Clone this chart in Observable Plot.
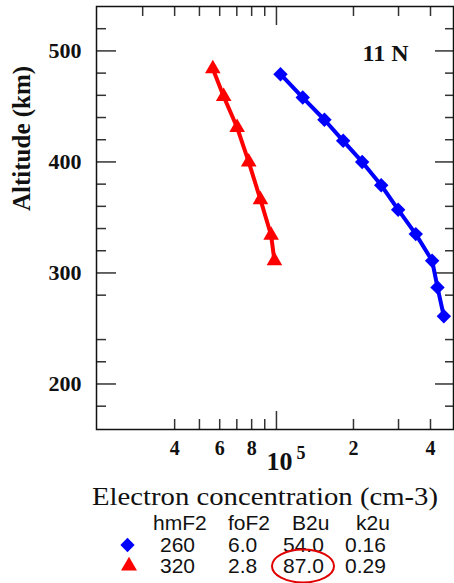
<!DOCTYPE html>
<html>
<head>
<meta charset="utf-8">
<script src="https://cdn.jsdelivr.net/npm/d3@7"></script>
<script src="https://cdn.jsdelivr.net/npm/@observablehq/plot@0.6"></script>
<style>
  html, body { margin: 0; padding: 0; background: #fff; }
  #chart { width: 454px; height: 583px; }
</style>
</head>
<body>
<div id="chart"></div>
<script>
// ---- data ----
const blueAlt = [479, 458, 438, 419, 400, 379, 357, 335, 311, 287, 261];
const blueNe  = [1.037e5, 1.267e5, 1.54e5, 1.823e5, 2.163e5, 2.567e5, 2.99e5, 3.504e5, 4.06e5, 4.26e5, 4.51e5];
const redAlt  = [484, 459, 431, 400, 366, 334, 311];
const redNe   = [5.64e4, 6.22e4, 7.02e4, 7.79e4, 8.66e4, 9.53e4, 9.82e4];

const yMajor = [200, 300, 400, 500];
const yMinor = [180, 220, 240, 280, 320, 340, 360, 380, 420, 440, 460, 480, 520];
const xMajor = [1e5];
const xTopMinor = [3e4, 4e4, 5e4, 6e4, 7e4, 8e4, 9e4, 2e5, 3e5, 4e5];
const xBottomMinor = [4e4, 5e4, 6e4, 7e4, 8e4, 9e4, 2e5, 3e5, 4e5];
const xLabelValues = [4e4, 6e4, 8e4, 2e5, 4e5];
const xLabelTexts = ["4", "6", "8", "2", "4"];
const decadeBase = "10";
const decadeExp = "5";

const panelLabel = "11 N";
const yLabel = "Altitude (km)";
const xLabel = "Electron concentration (cm-3)";

const tableHeader = ["hmF2", "foF2", "B2u", "k2u"];
const blueRow = ["260", "6.0", "54.0", "0.16"];
const redRow  = ["320", "2.8", "87.0", "0.29"];

const blue = blueAlt.map((a, i) => ({alt: a, ne: blueNe[i]}));
const red = redAlt.map((a, i) => ({alt: a, ne: redNe[i]}));

// ---- layout ----
const W = 454, H = 583;
const mL = 96, mR = 1, mT = 6, mB = 154;
const fw = W - mL - mR, fh = H - mT - mB;
const tickCol = "#333";
const serif = "Liberation Serif, Times New Roman, serif";
const sans = "Liberation Sans, Arial, sans-serif";

const chart = Plot.plot({
  width: W, height: H,
  marginLeft: mL, marginRight: mR, marginTop: mT, marginBottom: mB,
  x: {type: "log", domain: [1.98e4, 4.92e5], axis: null},
  y: {domain: [159, 540], axis: null},
  style: {fontFamily: serif, background: "white", color: "#111"},
  marks: [
    // ticks (inward, both sides)
    Plot.ruleY(yMajor, {insetRight: fw - 20, stroke: tickCol, strokeWidth: 1.5}),
    Plot.ruleY(yMajor, {insetLeft: fw - 18, stroke: tickCol, strokeWidth: 1.5}),
    Plot.ruleY(yMinor, {insetRight: fw - 10, stroke: tickCol, strokeWidth: 1.5}),
    Plot.ruleY(yMinor, {insetLeft: fw - 8, stroke: tickCol, strokeWidth: 1.5}),
    Plot.ruleX(xBottomMinor, {insetTop: fh - 10, stroke: tickCol, strokeWidth: 1.5}),
    Plot.ruleX(xMajor, {insetTop: fh - 18, stroke: tickCol, strokeWidth: 1.5}),
    Plot.ruleX(xTopMinor, {insetBottom: fh - 10, stroke: tickCol, strokeWidth: 1.5}),
    Plot.ruleX(xMajor, {insetBottom: fh - 19, stroke: tickCol, strokeWidth: 1.5}),
    Plot.frame({stroke: "#111", strokeWidth: 1.5}),
    // tick labels
    Plot.text(yMajor, {y: d => d, text: d => String(d), frameAnchor: "left", dx: -15, textAnchor: "end",
      fontSize: 22, fontWeight: "bold", fill: "#111"}),
    Plot.text(xLabelValues, {x: d => d, text: (d, i) => xLabelTexts[i], frameAnchor: "bottom", dy: 25,
      fontSize: 20, fontWeight: "bold", fill: "#111"}),
    Plot.text(xMajor, {x: d => d, text: () => decadeBase, frameAnchor: "bottom", dx: 3, dy: 40,
      fontSize: 26, fontWeight: "bold", fill: "#111"}),
    Plot.text(xMajor, {x: d => d, text: () => decadeExp, frameAnchor: "bottom", dx: 24.5, dy: 29.5,
      fontSize: 18, fontWeight: "bold", fill: "#111"}),
    // panel label and y label
    Plot.text([panelLabel], {text: d => d, frameAnchor: "top-right", dx: -45, dy: 37, textAnchor: "end",
      fontSize: 24, fontWeight: "bold", fill: "#111"}),
    Plot.text([yLabel], {text: d => d, frameAnchor: "left", dx: -75, dy: -7, rotate: -90,
      fontSize: 25, fontWeight: "bold", fill: "#111"}),
    // data
    Plot.line(red, {x: "ne", y: "alt", stroke: "#ff0000", strokeWidth: 4}),
    Plot.dot(red, {x: "ne", y: "alt", symbol: "triangle", r: 5.8, fill: "#ff0000", stroke: "none"}),
    Plot.line(blue, {x: "ne", y: "alt", stroke: "#0000ff", strokeWidth: 4}),
    Plot.dot(blue, {x: "ne", y: "alt", symbol: "diamond2", r: 6.5, fill: "#0000ff", stroke: "none"})
  ]
});

document.getElementById("chart").appendChild(chart);

// ---- caption area below the frame (x title, parameter table, legend symbols) ----
const svg = d3.select(chart);
svg.append("text")
  .attr("x", 265).attr("y", 505)
  .attr("text-anchor", "middle")
  .attr("font-family", serif).attr("font-size", 26)
  .attr("textLength", 346).attr("lengthAdjust", "spacingAndGlyphs")
  .attr("fill", "#111")
  .text(xLabel);

const colX = [153, 228, 292, 356];
const valX = [160, 228, 283, 345];
function row(vals, xs, y) {
  vals.forEach((t, i) => {
    svg.append("text").attr("x", xs[i]).attr("y", y)
      .attr("text-anchor", "start")
      .attr("font-family", sans).attr("font-size", 21).attr("fill", "#111")
      .text(t);
  });
}
row(tableHeader, colX, 530);
row(blueRow, valX, 552);
row(redRow, valX, 573);

svg.append("path")
  .attr("transform", "translate(127.5,545)")
  .attr("d", d3.symbol(d3.symbolDiamond2, 130)())
  .attr("fill", "#0000ff");
svg.append("path")
  .attr("transform", "translate(129,566)")
  .attr("d", d3.symbol(d3.symbolTriangle, 110)())
  .attr("fill", "#ff0000");

svg.append("ellipse")
  .attr("cx", 303).attr("cy", 566).attr("rx", 31).attr("ry", 16.5)
  .attr("fill", "none").attr("stroke", "#e00000").attr("stroke-width", 2);
</script>
</body>
</html>
